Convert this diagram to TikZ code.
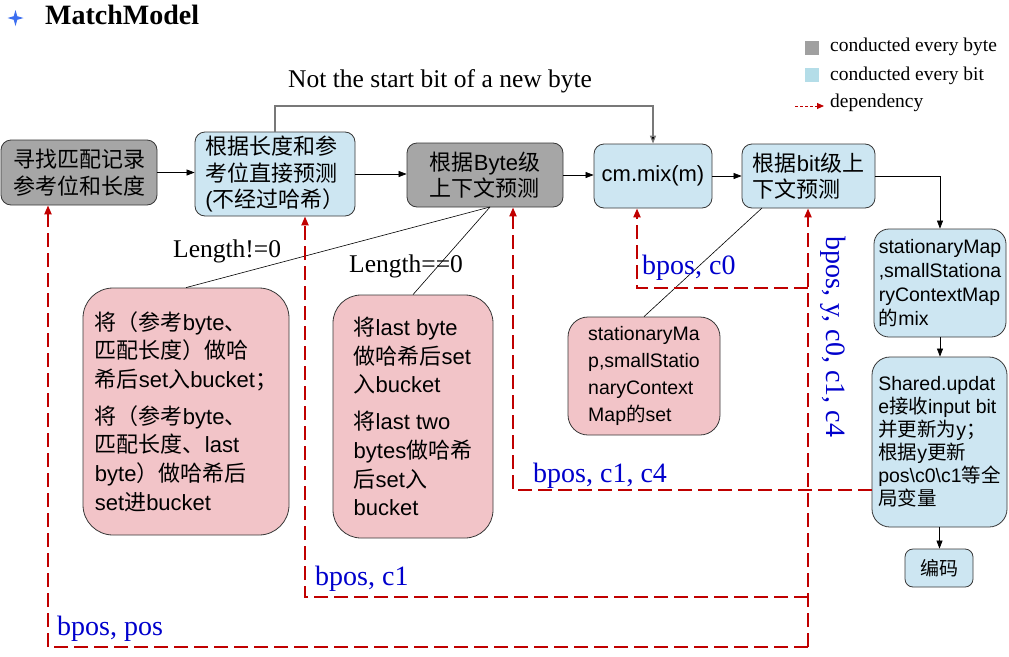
\documentclass[tikz,border=0pt]{standalone}
\usepackage{fontspec}
\setmainfont{Liberation Serif}
\newfontfamily\cjk{Noto Sans CJK SC}
\newfontfamily\arial{Liberation Sans}
\usetikzlibrary{arrows.meta, calc}
\newcommand{\zh}[1]{{\cjk #1}}
\definecolor{boxgray}{RGB}{166,166,166}
\definecolor{boxblue}{RGB}{205,230,242}
\definecolor{boxpink}{RGB}{242,196,200}
\definecolor{boxedge}{RGB}{55,55,55}
\definecolor{depred}{RGB}{192,0,0}
\definecolor{lblblue}{RGB}{0,0,204}
\definecolor{starblue}{RGB}{60,110,240}
\definecolor{legendgray}{RGB}{160,160,160}
\definecolor{legendblue}{RGB}{180,221,232}
\definecolor{skipgray}{RGB}{120,120,120}
\tikzset{
  box/.style={draw=boxedge, line width=0.8pt, rounded corners=10pt, inner sep=0pt, align=left, font=\arial\fontsize{22}{26.5}\selectfont},
  bytebox/.style={box, fill=boxgray},
  bitbox/.style={box, fill=boxblue},
  hashbox/.style={box, fill=boxpink, font=\arial\fontsize{22}{28.7}\selectfont},
  flow/.style={-{Triangle[length=8pt,width=6pt]}, line width=0.7pt},
  dep/.style={-{Triangle[length=9pt,width=7pt]}, draw=depred, line width=2pt, dash pattern=on 14pt off 6pt},
  deplbl/.style={text=lblblue, font=\fontsize{28}{30}\selectfont, inner sep=0pt},
  note/.style={font=\fontsize{25.5}{28}\selectfont, inner sep=0pt},
  legendmark/.style={minimum size=14pt, inner sep=0pt},
  legendtxt/.style={font=\fontsize{19.5}{22}\selectfont, inner sep=0pt}
}

\begin{document}
\begin{tikzpicture}[x=1pt, y=-1pt]
\useasboundingbox (0,0) rectangle (1009,656);

% title and legend
\fill[starblue] (15.5,10) -- (17.3,16.2) -- (23.5,18) -- (17.3,19.8) -- (15.5,26) -- (13.7,19.8) -- (7.5,18) -- (13.7,16.2) -- cycle;
\node[anchor=base west, inner sep=0pt, font=\fontsize{28}{30}\selectfont\bfseries] (title) at (45,24) {MatchModel};

\node[legendmark, fill=legendgray] (keybyte) at (812,48) {};
\node[legendtxt, anchor=base west] (keybytetxt) at (830,51) {conducted every byte};
\node[legendmark, fill=legendblue] (keybit) at (812,74.5) {};
\node[legendtxt, anchor=base west] (keybittxt) at (830,80) {conducted every bit};
\coordinate (keydep) at (795,106);
\node[legendtxt, anchor=base west] (keydeptxt) at (830,107) {dependency};
\draw[depred, line width=1pt, densely dashed, -{Triangle[length=7pt,width=6pt]}] (keydep) -- ($(keydeptxt.west |- keydep)+(-6,0)$);

% pipeline
\node[bytebox, minimum width=156pt, minimum height=65pt] (find) at (79,172.5) {\zh{寻找匹配记录}\\\zh{参考位和长度}};
\node[bitbox, minimum width=160pt, minimum height=84pt] (direct) at (275,174) {\zh{根据长度和参}\\\zh{考位直接预测}\\(\zh{不经过哈希）}};
\node[bytebox, minimum width=156pt, minimum height=64pt] (bytepred) at (485,175) {\zh{根据}Byte\zh{级}\\\zh{上下文预测}};
\node[bitbox, minimum width=118pt, minimum height=64pt] (mix) at (653,176) {cm.mix(m)};
\node[bitbox, minimum width=133pt, minimum height=64pt] (bitpred) at (808.5,176) {\zh{根据}bit\zh{级上}\\\zh{下文预测}};
\node[bitbox, rounded corners=15pt, font=\arial\fontsize{19.5}{24}\selectfont, minimum width=132pt, minimum height=108pt] (smix) at (940,283) {stationaryMap\\,smallStationa\\ryContextMap\\\zh{的}mix};
\node[bitbox, rounded corners=18pt, font=\arial\fontsize{19.5}{23}\selectfont, minimum width=135pt, minimum height=170pt] (update) at (939.5,442) {Shared.updat\\e\zh{接收}input bit\\\zh{并更新为}y\zh{；}\\\zh{根据}y\zh{更新}\\pos\textbackslash c0\textbackslash c1\zh{等全}\\\zh{局变量}};
\node[bitbox, rounded corners=8pt, font=\cjk\fontsize{19}{22}\selectfont, minimum width=68pt, minimum height=38pt] (encode) at (939,568) {编码};

% hashing
\node[hashbox, rounded corners=30pt, minimum width=206pt, minimum height=247pt] (hashA) at (186,411.5) {\zh{将（参考}byte\zh{、}\\\zh{匹配长度）做哈}\\\zh{希后}set\zh{入}bucket\zh{；}\\[8pt]\zh{将（参考}byte\zh{、}\\\zh{匹配长度、}last\\byte\zh{）做哈希后}\\set\zh{进}bucket};
\node[hashbox, rounded corners=28pt, minimum width=160pt, minimum height=243pt] (hashB) at (413,416.5) {\zh{将}last byte\\\zh{做哈希后}set\\\zh{入}bucket\\[8pt]\zh{将}last two\\bytes\zh{做哈希}\\\zh{后}set\zh{入}\\bucket};
\node[hashbox, rounded corners=20pt, font=\arial\fontsize{19.5}{27}\selectfont, minimum width=152pt, minimum height=118pt] (smset) at (644,376) {stationaryMa\\p,smallStatio\\naryContext\\Map\zh{的}set};

\node[note, anchor=base west] (skiplbl) at (288,87) {Not the start bit of a new byte};
\node[note, anchor=base west] (lenne) at (173,257) {Length!=0};
\node[note, anchor=base west] (leneq) at (349,272) {Length==0};

\draw[flow] (find.east) -- (find.east -| direct.west);
\draw[flow] (direct.east) -- (direct.east -| bytepred.west);
\draw[flow] (bytepred.east) -- (bytepred.east -| mix.west);
\draw[flow] (mix.east) -- (mix.east -| bitpred.west);
\draw[flow] (bitpred.east) -| (smix.north);
\draw[flow] (smix.south) -- (smix.south |- update.north);
\draw[flow] (update.south) -- (update.south |- encode.north);
\coordinate (skipturn) at (653,106);
\draw[flow, draw=skipgray, line width=1.2pt, -{Triangle[length=8pt,width=6pt,fill=black]}] (direct.north) |- (skipturn) -- (mix.north);

\coordinate (lenroot) at (490,207);
\coordinate (bitroot) at (762,208);
\draw[line width=0.6pt] (lenroot) -- (hashA.north);
\draw[line width=0.6pt] (lenroot) -- (hashB.north);
\draw[line width=0.6pt] (bitroot) -- (smset.north);

% dependencies
\coordinate (bytedep) at (513,490);
\coordinate (trunk) at (808,647);
\coordinate (c0turn) at (808,288);
\coordinate (c0corner) at (637,288);
\coordinate (c1turn) at (808,597);
\coordinate (c1corner) at (305,597);
\coordinate (poscorner) at (48,647);
\draw[dep] (update.west |- bytedep) -- (bytedep) -- (bytedep |- bytepred.south);
\draw[dep] (trunk) -- (trunk |- bitpred.south);
\draw[dep] (c0turn) -- (c0corner) -- (c0corner |- mix.south);
\draw[dep] (c1turn) -- (c1corner) -- (c1corner |- direct.south);
\draw[dep] (trunk) -- (poscorner) -- (poscorner |- find.south);

\node[deplbl, anchor=base west] (lblc0) at (642,274) {bpos, c0};
\node[deplbl, anchor=base west] (lblc1c4) at (533,482) {bpos, c1, c4};
\node[deplbl, anchor=base west] (lblc1) at (315,585) {bpos, c1};
\node[deplbl, anchor=base west] (lblpos) at (57,635) {bpos, pos};
\node[deplbl, rotate=-90] (lbltrunk) at (833,337) {bpos, y, c0, c1, c4};
\end{tikzpicture}
\end{document}
